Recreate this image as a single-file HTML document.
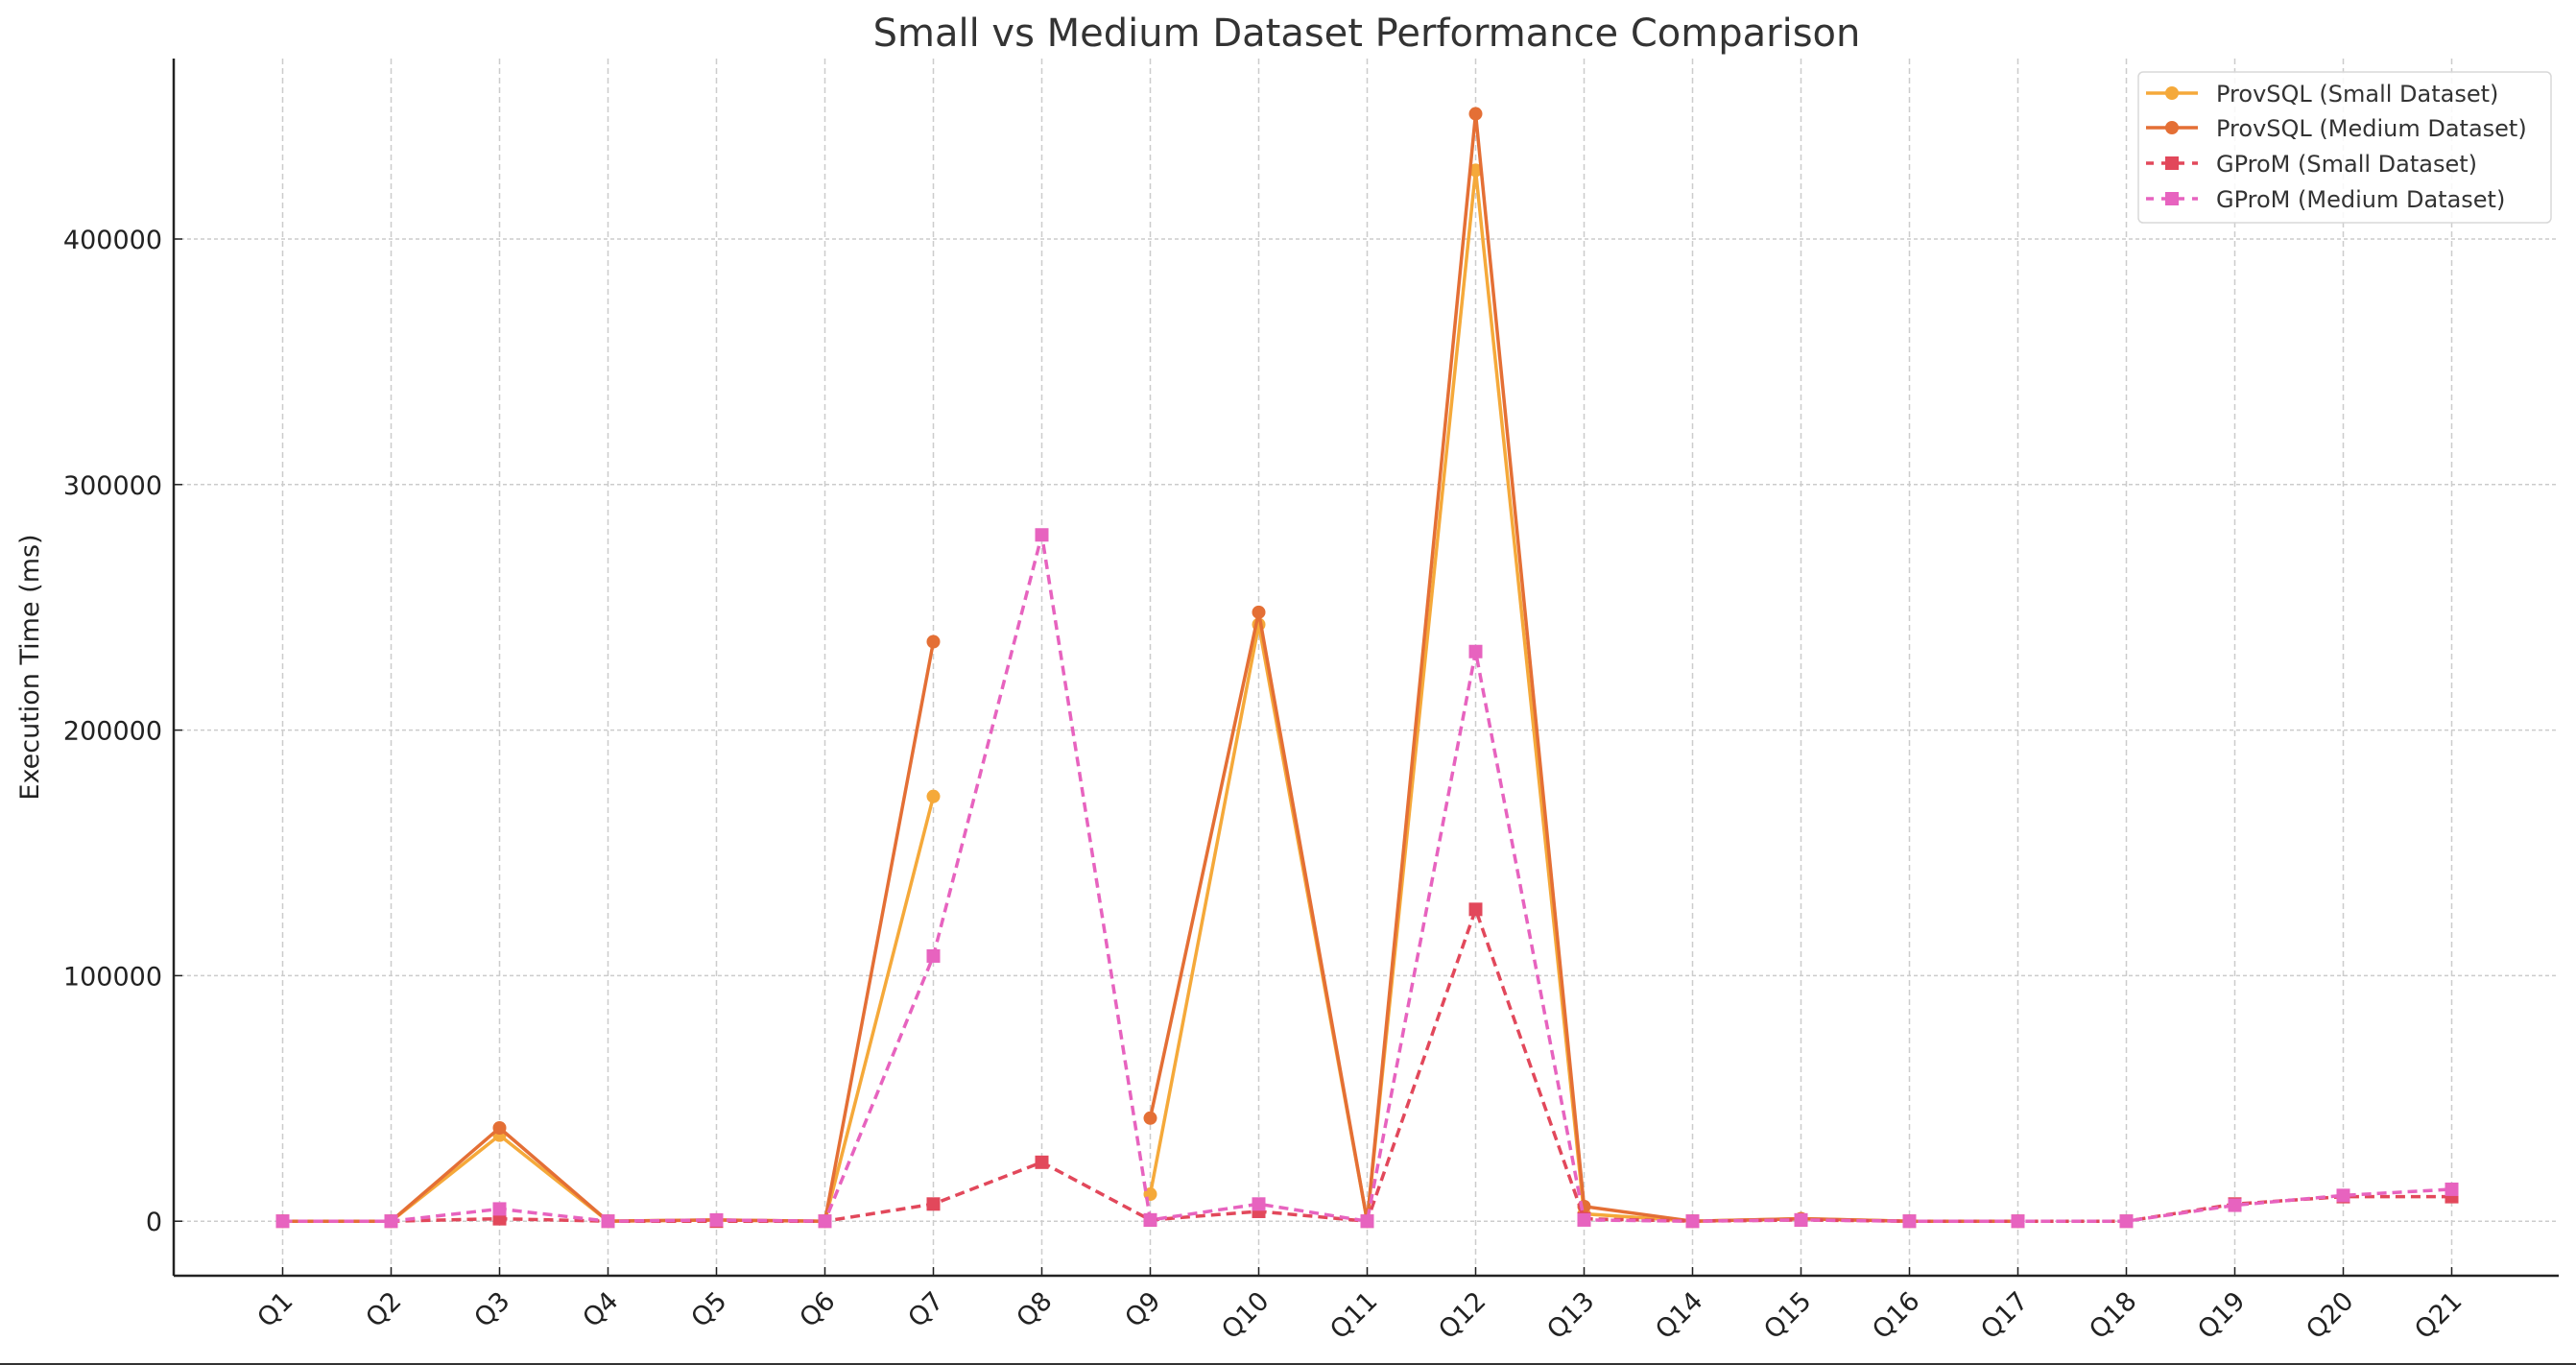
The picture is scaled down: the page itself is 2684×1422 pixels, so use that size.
<!DOCTYPE html>
<html><head><meta charset="utf-8"><style>
html,body{margin:0;padding:0;background:#fff}
svg{display:block}
text{font-family:"DejaVu Sans","Liberation Sans",sans-serif}
</style></head><body>
<svg id="chart" width="2684" height="1422" viewBox="0 0 2684 1422" xmlns="http://www.w3.org/2000/svg">
<rect width="2684" height="1422" fill="#fff"/>
<text x="1424" y="48" text-anchor="middle" font-size="40" fill="#333">Small vs Medium Dataset Performance Comparison</text>
<line x1="0" x2="2684" y1="1421" y2="1421" stroke="#333" stroke-width="2"/>
<g id="grid"></g>
<g id="axes"></g>
<g id="series"></g>
<g id="legend"></g>
</svg>
<script>
const categories = ["Q1","Q2","Q3","Q4","Q5","Q6","Q7","Q8","Q9","Q10","Q11","Q12","Q13","Q14","Q15","Q16","Q17","Q18","Q19","Q20","Q21"];
const provsqlSmall = [0,0,35000,0,500,0,173000,null,11000,243000,0,428000,3000,0,1000,0,0,null,null,null,null];
const provsqlMedium = [0,0,38000,0,500,0,236000,null,42000,248000,0,451000,6000,0,1000,0,0,null,null,null,null];
const gpromSmall = [0,0,1000,0,0,0,7000,24000,500,4000,0,127000,1000,0,500,0,0,0,7000,10000,10000];
const gpromMedium = [0,0,5000,0,500,0,108000,279500,500,7000,0,232000,500,0,500,0,0,0,6500,10500,13000];
const yTicks = [0,100000,200000,300000,400000];
const seriesNames = ["ProvSQL (Small Dataset)","ProvSQL (Medium Dataset)","GProM (Small Dataset)","GProM (Medium Dataset)"];

const NS="http://www.w3.org/2000/svg";
const L=181,R=2666,T=61,B=1329;
function xs(i){return 294.5+i*113;}
function ys(v){return 1272.2-v*255.8/100000;}
function mk(tag,attrs,parent){const e=document.createElementNS(NS,tag);for(const k in attrs)e.setAttribute(k,attrs[k]);parent.appendChild(e);return e;}
const grid=document.getElementById('grid'),axes=document.getElementById('axes'),sg=document.getElementById('series'),lg=document.getElementById('legend');

categories.forEach((c,i)=>{
  const g=mk('line',{x1:xs(i),x2:xs(i),y1:T,y2:B,stroke:'#cccccc','stroke-width':1.5,'stroke-dasharray':'6,4'},grid);
  
  
  const tk=mk('line',{x1:xs(i),x2:xs(i),y1:B,y2:B-9,stroke:'#222','stroke-width':1.5},axes);
  
  
  const t=mk('text',{x:0,y:0,'font-size':27,fill:'#222','text-anchor':'end',transform:`translate(${xs(i)+12},${B+28}) rotate(-45)`},axes);
  t.textContent=c;
  
  
});
yTicks.forEach(v=>{
  const g=mk('line',{x1:L,x2:R,y1:ys(v),y2:ys(v),stroke:'#cccccc','stroke-width':1.5,'stroke-dasharray':'4,3'},grid);
  
  
  const tk=mk('line',{x1:L,x2:L+9,y1:ys(v),y2:ys(v),stroke:'#222','stroke-width':1.5},axes);
  
  
  const t=mk('text',{x:L-12,y:ys(v)+10,'font-size':27,fill:'#222','text-anchor':'end'},axes);
  t.textContent=String(v);
  
  
});
const la=mk('line',{x1:L,x2:L,y1:T,y2:B,stroke:'#222','stroke-width':2.5},axes);


const ba=mk('line',{x1:L,x2:R,y1:B,y2:B,stroke:'#222','stroke-width':2.5},axes);


const yl=mk('text',{x:0,y:0,'font-size':27,fill:'#222','text-anchor':'middle',transform:`translate(40,695) rotate(-90)`},axes);
yl.textContent='Execution Time (ms)';



const styles=[
 {data:provsqlSmall,color:'#f5a93a',dash:null,marker:'circle',name:'provsql-small'},
 {data:provsqlMedium,color:'#e46f35',dash:null,marker:'circle',name:'provsql-medium'},
 {data:gpromSmall,color:'#e2485b',dash:'10,6',marker:'square',name:'gprom-small'},
 {data:gpromMedium,color:'#e763bf',dash:'10,6',marker:'square',name:'gprom-medium'}
];
styles.forEach(s=>{
  const g=mk('g',{},sg);
  
  
  let segs=[],cur=[];
  s.data.forEach((v,i)=>{if(v===null){if(cur.length)segs.push(cur);cur=[];}else cur.push([xs(i),ys(v)]);});
  if(cur.length)segs.push(cur);
  segs.forEach(seg=>{
    if(seg.length<2)return;
    const a={points:seg.map(p=>p.join(',')).join(' '),fill:'none',stroke:s.color,'stroke-width':3.5,'stroke-linejoin':'round'};
    if(s.dash)a['stroke-dasharray']=s.dash;
    const pl=mk('polyline',a,g);
    
    
  });
  s.data.forEach((v,i)=>{
    if(v===null)return;
    let m;
    if(s.marker==='circle')m=mk('circle',{cx:xs(i),cy:ys(v),r:7,fill:s.color},g);
    else m=mk('rect',{x:xs(i)-7,y:ys(v)-7,width:14,height:14,fill:s.color},g);
    
    
  });
});

const box=mk('rect',{x:2228,y:75,width:430,height:157,rx:5,fill:'#fff','fill-opacity':0.85,stroke:'#d8d8d8','stroke-width':1.5},lg);


const ly=[97,133,170,207];
styles.forEach((s,k)=>{
  const a={x1:2236,x2:2290,y1:ly[k],y2:ly[k],stroke:s.color,'stroke-width':3.5};
  if(s.dash)a['stroke-dasharray']='8,8';
  mk('line',a,lg);
  if(s.marker==='circle')mk('circle',{cx:2263,cy:ly[k],r:7,fill:s.color},lg);
  else mk('rect',{x:2256,y:ly[k]-7,width:14,height:14,fill:s.color},lg);
  const t=mk('text',{x:2309,y:ly[k]+9,'font-size':24,fill:'#333'},lg);
  t.textContent=seriesNames[k];
  
  
});
</script>
</body></html>
